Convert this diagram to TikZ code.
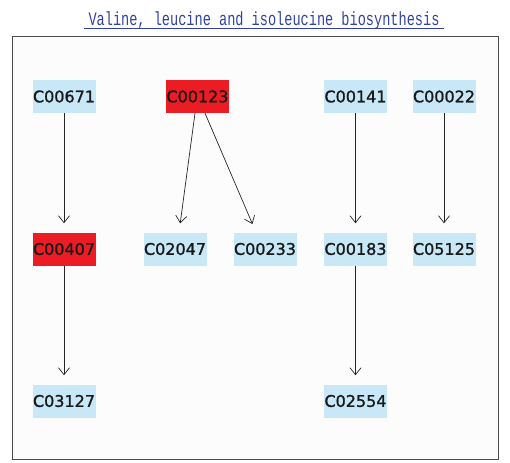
\documentclass[tikz,border=0pt]{standalone}
\usepackage{fontspec}
\setmainfont{DejaVu Sans}
\newfontfamily\cpdfont[FakeBold=1.3]{DejaVu Sans}
\newfontfamily\titlefont{Liberation Mono}
\usetikzlibrary{calc,arrows.meta}
\definecolor{cpdblue}{RGB}{200,232,247}
\definecolor{cpdred}{RGB}{236,28,36}
\definecolor{titleblue}{RGB}{50,65,160}
\definecolor{bgc}{RGB}{252,252,252}
\tikzset{
  cpd/.style={fill=cpdblue, minimum width=63pt, minimum height=33pt, inner sep=0pt, font=\cpdfont\fontsize{16}{18}\selectfont, text=black!90},
  hit/.style={cpd, fill=cpdred},
  rel/.style={draw=black!85, line width=0.7pt, -{Straight Barb[length=7pt,width=11pt,line width=0.7pt]}, shorten >=9pt}
}
\begin{document}
\begin{tikzpicture}[x=1pt,y=-1pt]
\useasboundingbox (0,0) rectangle (510,462);
\fill[white] (0,0) rectangle (510,462);
\draw[fill=bgc, draw=black!70, line width=0.8pt] (12,36) rectangle (498,459);
\node[text=titleblue, font=\titlefont\fontsize{13.6}{15}\selectfont, inner sep=0pt, anchor=base] (title) at (264,25.5) {\scalebox{1}[1.4]{Valine, leucine and isoleucine biosynthesis}};
\draw[titleblue, line width=0.8pt] (84,28) -- (444,28);
% row 1
\node[cpd] (C00671) at (64,96.5) {C00671};
\node[hit] (C00123) at (197.5,96.5) {C00123};
\node[cpd] (C00141) at (355.5,96.5) {C00141};
\node[cpd] (C00022) at (444,96.5) {C00022};
% row 2
\node[hit] (C00407) at (64,249) {C00407};
\node[cpd] (C02047) at (175,249) {C02047};
\node[cpd] (C00233) at (265,249) {C00233};
\node[cpd] (C00183) at (355.5,249) {C00183};
\node[cpd] (C05125) at (444,249) {C05125};
% row 3
\node[cpd] (C03127) at (64,401) {C03127};
\node[cpd] (C02554) at (355.5,401) {C02554};
% edges
\draw[rel] (C00671.south) -- (C00407.north);
\draw[rel] ($(C00123.south)+(-2.5,0)$) -- ($(C02047.north)+(4,0)$);
\draw[rel] ($(C00123.south)+(7.5,0)$) -- ($(C00233.north)+(-9,0)$);
\draw[rel] (C00141.south) -- (C00183.north);
\draw[rel] (C00022.south) -- (C05125.north);
\draw[rel] (C00407.south) -- (C03127.north);
\draw[rel] (C00183.south) -- (C02554.north);
\end{tikzpicture}
\end{document}
